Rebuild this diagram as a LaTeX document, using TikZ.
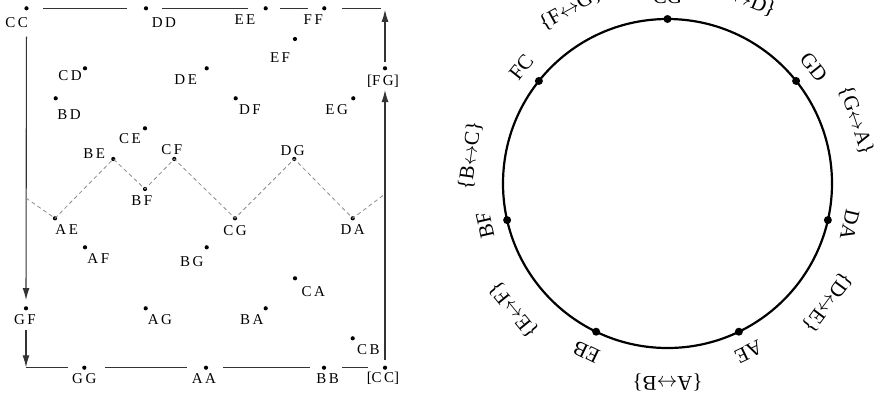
\documentclass[tikz,border=0pt]{standalone}
\usepackage{fontspec}
\setmainfont{Liberation Serif}
\usetikzlibrary{arrows.meta}
\newcommand\ls{\kern2.5bp\relax}
\begin{document}
\begin{tikzpicture}[x=1bp,y=-1bp,
  dot/.style={circle,fill=black,inner sep=0pt,minimum size=4.2bp},
  lbl/.style={font=\fontsize{15bp}{17bp}\selectfont, inner sep=0pt},
  frame/.style={draw=black!80,line width=1.1bp},
  arr/.style={frame,-{Latex[length=12bp,width=7bp]}},
  zig/.style={draw=black!45,dash pattern=on 4bp off 3bp,line width=0.8bp},
  big/.style={circle,fill=black,inner sep=0pt,minimum size=8bp},
  rl/.style={font=\fontsize{21bp}{23bp}\selectfont, inner sep=0pt},
]
\useasboundingbox (0,0) rectangle (882,400);
% left diagram: dots
\foreach \n/\x/\y/\lx/\ly/\t in {
  CC/26.5/8.3/16.7/22.7/C\ls C,
  DD/146/8.3/164/22.7/D\ls D,
  EE/265.7/8.3/245/19.3/E\ls E,
  FF/324.3/8.3/313.3/20/F\ls F,
  EF/295/39/280/57.3/E\ls F,
  CD/85/68.3/70/76/C\ls D,
  DE/206.7/68.3/185.7/80/D\ls E,
  FG/385/68.3/383/81.7/[F\ls G],
  BD/55.7/98.3/69/115/B\ls D,
  DF/235.7/98.3/250/110/D\ls F,
  EG/353.3/98.3/336.7/110/E\ls G,
  CE/145/128.3/130/138.3/C\ls E,
  BE/113.3/159/94.3/153.3/B\ls E,
  CF/174.3/159/171.7/149.3/C\ls F,
  DG/294.3/159/292.7/150.7/D\ls G,
  BF/145/189/141.7/200.7/B\ls F,
  AE/55/218.3/66.7/229.3/A\ls E,
  CG/235/218.3/235/230.7/C\ls G,
  DA/352.7/218.3/352.7/229.3/D\ls A,
  AF/85/247.3/98.3/258.3/A\ls F,
  BG/206.7/247.3/191.7/261.7/B\ls G,
  CA/295/278.3/313.3/291.7/C\ls A,
  GF/26/308.3/25/320/G\ls F,
  AG/145.7/308.3/160/320/A\ls G,
  BA/265.7/308.3/251.7/320/B\ls A,
  CB/352.7/338.3/368.3/350/C\ls B,
  GG/84.3/367.7/84.3/378.3/G\ls G,
  AA/206/367.7/204/378.3/A\ls A,
  BB/324/367.7/327.7/378.3/B\ls B,
  CCb/385/367.7/383/378.3/[C\ls C]}{
  \node[dot] (\n) at (\x,\y) {};
  \node[lbl] (\n-l) at (\lx,\ly) {\t};
}
\coordinate (tr) at (385,8.3);
\coordinate (bl) at (26,367.7);
\coordinate (zl) at (26,198);
\coordinate (zr) at (385,194);
% frame
\draw[frame, shorten <=16.8bp, shorten >=19.3bp] (CC.center) -- (DD.center);
\draw[frame, shorten <=16.3bp, shorten >=17.4bp] (DD.center) -- (EE.center);
\draw[frame, shorten <=14.3bp, shorten >=16bp] (EE.center) -- (FF.center);
\draw[frame, shorten <=17.4bp, shorten >=4bp] (FF.center) -- (tr);
\draw[arr, shorten <=6.6bp, shorten >=1.5bp] (FG.center) -- (tr);
\draw[arr, shorten <=28.4bp, shorten >=8.3bp] (CC.center) -- (GF.center);
\draw[arr, shorten <=21.7bp, shorten >=0.4bp] (GF.center) -- (bl);
\draw[frame, shorten >=16bp] (bl) -- (GG.center);
\draw[frame, shorten <=20.7bp, shorten >=19.3bp] (GG.center) -- (AA.center);
\draw[frame, shorten <=17.3bp, shorten >=14bp] (AA.center) -- (BB.center);
\draw[frame, shorten <=18.3bp, shorten >=16.7bp] (BB.center) -- (CCb.center);
\draw[arr, shorten <=7.7bp, shorten >=21.7bp] (CCb.center) -- (FG.center);
% zigzag
\draw[zig] (zl) -- (AE.center) -- (BE.center) -- (BF.center) -- (CF.center)
  -- (CG.center) -- (DG.center) -- (DA.center) -- (zr);
% right diagram
\coordinate (O) at (667.5,183.5);
\draw[line width=2.2bp] (O) circle[radius=164.5];
\foreach \n/\a in {CG/90, GD/38.571, DA/-12.857, AE/-64.286, EB/-115.714, BF/-167.143, FC/141.429}{
  \node[big] (r\n) at ([shift={(-\a:164.5)}]O) {};
  \node[rl, rotate=\a-90] (r\n-l) at ([shift={(-\a:187)}]O) {\n};
}
\foreach \i/\a/\r/\t in {1/119/200/{\{F$\leftrightarrow$G\}}, 2/68/200/{\{C$\leftrightarrow$D\}}, 3/18.5/199/{\{G$\leftrightarrow$A\}}, 4/-36.6/199/{\{D$\leftrightarrow$E\}},
  5/-90/199/{\{A$\leftrightarrow$B\}}, 6/-140.7/199/{\{E$\leftrightarrow$F\}}, 7/172/199/{\{B$\leftrightarrow$C\}}}{
  \node[rl, rotate=\a-90] (e\i) at ([shift={(-\a:\r)}]O) {\t};
}
\end{tikzpicture}
\end{document}
